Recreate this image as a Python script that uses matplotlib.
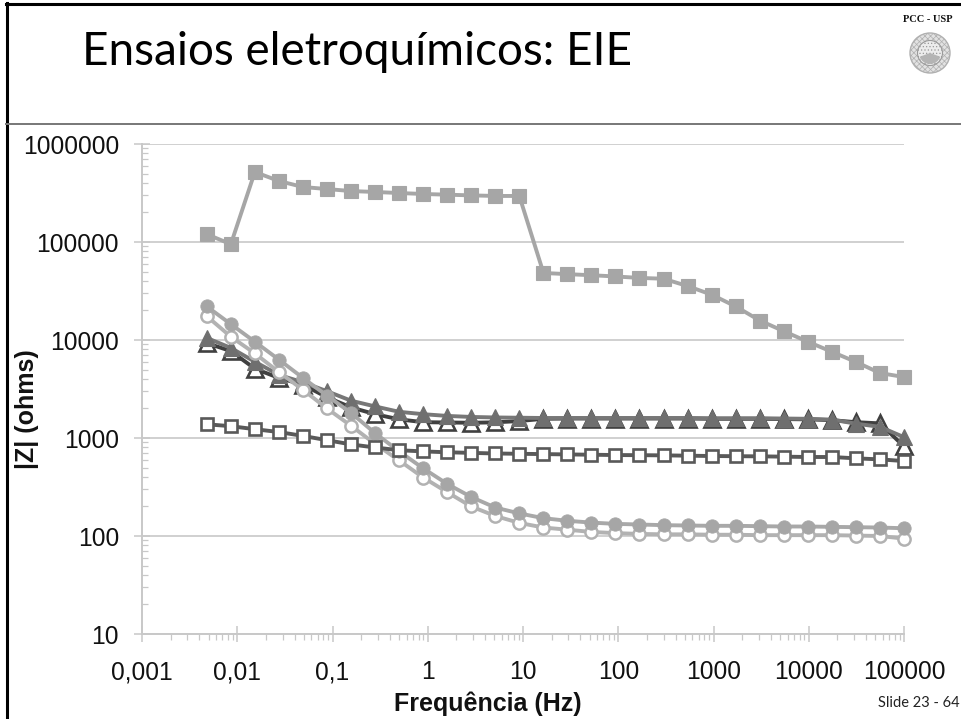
import numpy as np
import matplotlib
matplotlib.use("Agg")
import matplotlib.pyplot as plt
from matplotlib.patches import Circle, Wedge
from matplotlib.lines import Line2D
from matplotlib.ticker import FixedLocator, FixedFormatter, NullFormatter

freq = [0.00479, 0.00857, 0.0153, 0.0274, 0.049, 0.0877, 0.157, 0.280, 0.501, 0.896,
        1.60, 2.86, 5.12, 9.15, 16.4, 29.2, 52.3, 93.5, 167, 299,
        535, 956, 1710, 3060, 5470, 9780, 17500, 31300, 55900, 100000]
sq_filled = [120000, 95000, 518000, 419000, 364000, 347000, 331000, 324000, 316000, 309000,
             304000, 299000, 295000, 295000, 48300, 47000, 45800, 44500, 43000, 42200,
             35500, 29000, 22000, 15800, 12300, 9600, 7580, 5970, 4600, 4190]
circ_filled = [22000, 14500, 9600, 6300, 4100, 2700, 1800, 1120, 730, 490,
               340, 250, 195, 170, 152, 143, 137, 133, 131, 129,
               128, 127, 127, 126, 125, 125, 124, 123, 122, 120]
circ_open = [17500, 10800, 7300, 4700, 3100, 2000, 1330, 870, 590, 395,
             280, 200, 160, 136, 122, 116, 110, 107, 105, 104,
             104, 103, 103, 102, 102, 102, 102, 101, 100, 94]
tri_filled = [10500, 8300, 6000, 4400, 3700, 3000, 2400, 2100, 1850, 1750,
              1680, 1640, 1620, 1610, 1600, 1600, 1600, 1600, 1600, 1600,
              1600, 1590, 1590, 1590, 1580, 1570, 1540, 1400, 1300, 1020]
tri_open = [9300, 7700, 5100, 4100, 3500, 2600, 2050, 1750, 1550, 1450,
            1440, 1430, 1445, 1490, 1570, 1580, 1580, 1580, 1580, 1580,
            1580, 1570, 1570, 1570, 1560, 1550, 1520, 1450, 1410, 820]
sq_open = [1380, 1320, 1230, 1150, 1050, 950, 860, 800, 750, 730,
           715, 705, 695, 690, 685, 680, 675, 670, 668, 665,
           660, 655, 652, 650, 645, 640, 640, 620, 605, 582]

x_ticks = [0.001, 0.01, 0.1, 1, 10, 100, 1000, 10000, 100000]
x_labels = ["0,001", "0,01", "0,1", "1", "10", "100", "1000", "10000", "100000"]
y_ticks = [10, 100, 1000, 10000, 100000, 1000000]
y_labels = ["10", "100", "1000", "10000", "100000", "1000000"]
title = "Ensaios eletroquímicos: EIE"

W, H = 961, 719
fig = plt.figure(figsize=(W / 100, H / 100), dpi=100, facecolor="white")
ax = fig.add_axes([142 / W, 1 - 634 / H, (904 - 142) / W, (634 - 144) / H])
ax.set_xscale("log")
ax.set_yscale("log")
ax.set_xlim(1e-3, 1e5)
ax.set_ylim(10, 1e6)

GRID = "#c8c8c8"
ax.yaxis.grid(True, which="major", color=GRID, lw=1.2, zorder=1)
for s in ("top", "right"):
    ax.spines[s].set_visible(False)
for s in ("left", "bottom"):
    ax.spines[s].set_color(GRID)
    ax.spines[s].set_linewidth(1.4)

ax.xaxis.set_major_locator(FixedLocator(x_ticks))
ax.xaxis.set_major_formatter(FixedFormatter(x_labels))
ax.yaxis.set_major_locator(FixedLocator(y_ticks))
ax.yaxis.set_major_formatter(FixedFormatter(y_labels))
mn = [m * 10.0 ** e for e in range(-3, 6) for m in range(2, 10)]
ax.xaxis.set_minor_locator(FixedLocator([v for v in mn if v < 1e5]))
ax.yaxis.set_minor_locator(FixedLocator([v for v in mn if 10 < v < 1e6]))
ax.xaxis.set_minor_formatter(NullFormatter())
ax.yaxis.set_minor_formatter(NullFormatter())
ax.tick_params(axis="both", which="major", direction="inout", length=12, width=1.1,
               color=GRID, labelsize=17.7, labelcolor="#111111")
ax.tick_params(axis="x", which="major", pad=13)
ax.tick_params(axis="y", which="major", pad=10.5)
ax.tick_params(axis="x", which="minor", direction="out", length=4, width=0.9, color=GRID)
ax.tick_params(axis="y", which="minor", direction="in", length=4, width=0.9, color=GRID)
for t in ax.get_xticklabels() + ax.get_yticklabels():
    t.set_fontfamily("Liberation Sans")

LW = 2.8
ax.plot(freq, tri_open, color="#404040", lw=LW, marker="^", ms=11, mfc="white",
        mec="#404040", mew=1.9, zorder=3, clip_on=False)
ax.plot(freq, tri_filled, color="#777777", lw=LW, marker="^", ms=12, mfc="#6f6f6f",
        mec="#6f6f6f", mew=0.8, zorder=4, clip_on=False)
ax.plot(freq, circ_open, color="#b2b2b2", lw=LW, marker="o", ms=8.8, mfc="white",
        mec="#b2b2b2", mew=1.8, zorder=5, clip_on=False)
ax.plot(freq, circ_filled, color="#a8a8a8", lw=LW, marker="o", ms=9.6, mfc="#a6a6a6",
        mec="#a6a6a6", mew=0.6, zorder=6, clip_on=False)
ax.plot(freq, sq_open, color="#595959", lw=LW, marker="s", ms=9.2, mfc="white",
        mec="#595959", mew=1.9, zorder=7, clip_on=False)
ax.plot(freq, sq_filled, color="#a6a6a6", lw=LW, marker="s", ms=10.2, mfc="#a6a6a6",
        mec="#a6a6a6", mew=0.8, zorder=7, clip_on=False)

fig.text(27 / W, 1 - 409 / H, "|Z| (ohms)", rotation=90, ha="center", va="center",
         fontsize=18, fontweight="bold", family="Liberation Sans", color="#111111")
fig.text(488 / W, 1 - 704 / H, "Frequência (Hz)", ha="center", va="center",
         fontsize=18, fontweight="bold", family="Liberation Sans", color="#111111")
fig.text(82 / W, 1 - 65 / H, title, ha="left", va="baseline", fontsize=33,
         family="Lato", color="black")
fig.text(960 / W, 1 - 703 / H, "Slide 23 - 64", ha="right", va="center", fontsize=10.5,
         family="Lato", color="#222222")
fig.text(928 / W, 1 - 20 / H, "PCC - USP", ha="center", va="center", fontsize=7.5,
         fontweight="bold", family="Liberation Serif", color="#111111")

# frame lines of the slide
fig.add_artist(Line2D([7 / W, 7 / W], [0, 1 - 3 / H], color="black", lw=2.2))
fig.add_artist(Line2D([6 / W, 1], [1 - 4 / H, 1 - 4 / H], color="black", lw=2.2))
fig.add_artist(Line2D([6 / W, 1], [1 - 124 / H, 1 - 124 / H], color="#777777", lw=1.4))

# university seal
seal = fig.add_axes([(930 - 23) / W, 1 - (53 + 23) / H, 46 / W, 46 / H])
seal.set_xlim(-23, 23)
seal.set_ylim(-23, 23)
seal.axis("off")
plt.rcParams["hatch.linewidth"] = 0.5
seal.add_patch(Circle((0, 0), 20, fc="#e2e2e2", ec="#b0b0b0", lw=1, hatch="xxxxxx"))
seal.add_patch(Circle((0, 0), 12.5, fc="#ececec", ec="#9a9a9a", lw=0.8, hatch="....."))
seal.add_patch(Wedge((0, 0), 11, 200, 340, fc="#b4b4b4", ec="none", hatch="-----"))

fig.savefig("out.png", dpi=100, facecolor="white")
